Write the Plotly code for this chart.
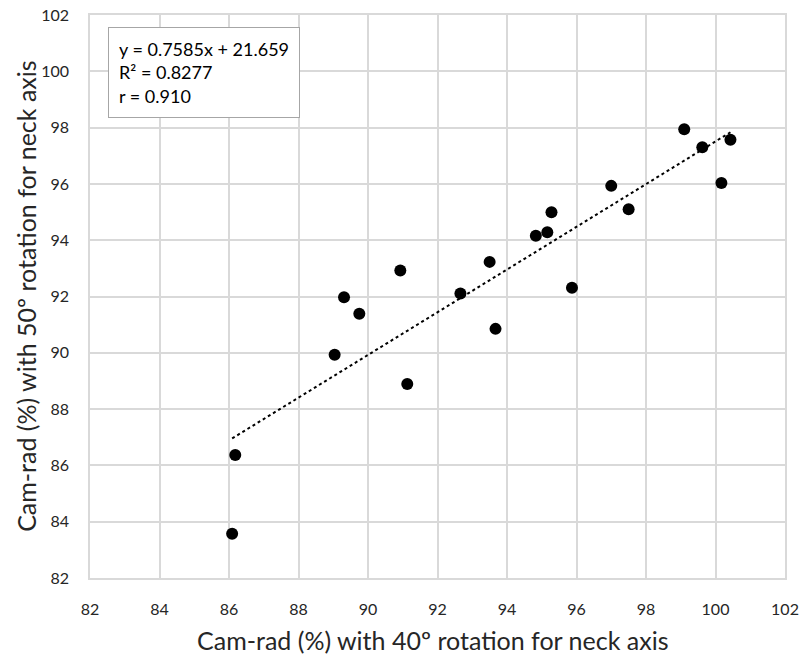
import plotly.graph_objects as go

x_vals = [86.09, 86.18, 89.04, 89.31, 89.75, 90.93, 91.13, 92.66, 93.50, 93.67,
          94.83, 95.16, 95.28, 95.87, 97.00, 97.50, 99.10, 99.62, 100.17, 100.43]
y_vals = [83.57, 86.37, 89.93, 91.97, 91.39, 92.92, 88.89, 92.11, 93.23, 90.85,
          94.16, 94.28, 94.99, 92.31, 95.93, 95.10, 97.94, 97.30, 96.03, 97.57]
slope = 0.7585
intercept = 21.659
eq_lines = ["y = 0.7585x + 21.659", "R² = 0.8277", "r = 0.910"]
x_title = "Cam-rad (%) with 40º rotation for neck axis"
y_title = "Cam-rad (%) with 50º rotation for neck axis"

FONT = "Lato"
GRID = "#d9d9d9"
TXT = "#262626"

x_line = [min(x_vals), max(x_vals)]
y_line = [slope * v + intercept for v in x_line]

fig = go.Figure()
fig.add_trace(go.Scatter(x=x_line, y=y_line, mode="lines",
                         line=dict(color="black", width=2, dash="dot"),
                         hoverinfo="skip", showlegend=False))
fig.add_trace(go.Scatter(x=x_vals, y=y_vals, mode="markers",
                         marker=dict(color="black", size=12),
                         showlegend=False))

fig.add_annotation(xref="paper", yref="paper", x=0.026, y=0.978,
                   xanchor="left", yanchor="top", align="left",
                   text="<br>".join(eq_lines), showarrow=False,
                   font=dict(family=FONT, size=18, color="black"),
                   bordercolor="#a6a6a6", borderwidth=1, borderpad=10,
                   bgcolor="white")

fig.add_annotation(xref="paper", yref="paper", x=0.493, y=-0.11,
                   xanchor="center", yanchor="middle", showarrow=False,
                   text=x_title, font=dict(family=FONT, size=25, color=TXT))
fig.add_annotation(xref="paper", yref="paper", x=-0.093, y=0.5,
                   xanchor="center", yanchor="middle", showarrow=False,
                   textangle=-90,
                   text=y_title, font=dict(family=FONT, size=25, color=TXT))

axis_common = dict(range=[82, 102], dtick=2, tick0=82, showgrid=True,
                   gridcolor=GRID, gridwidth=1.5, showline=True,
                   linecolor=GRID, linewidth=1.5, mirror=True,
                   zeroline=False, ticks="", automargin=False,
                   tickfont=dict(family=FONT, size=16, color=TXT))

fig.update_xaxes(**axis_common, ticklabelstandoff=16)
fig.update_yaxes(**axis_common, ticklabelstandoff=16)

fig.update_layout(width=802, height=657,
                  margin=dict(l=90, r=17, t=15, b=79),
                  plot_bgcolor="white", paper_bgcolor="white",
                  font=dict(family=FONT))

fig.write_html("out.html", config={"displayModeBar": False},
               post_script="document.body.style.margin='0px';document.body.style.overflow='hidden';")
